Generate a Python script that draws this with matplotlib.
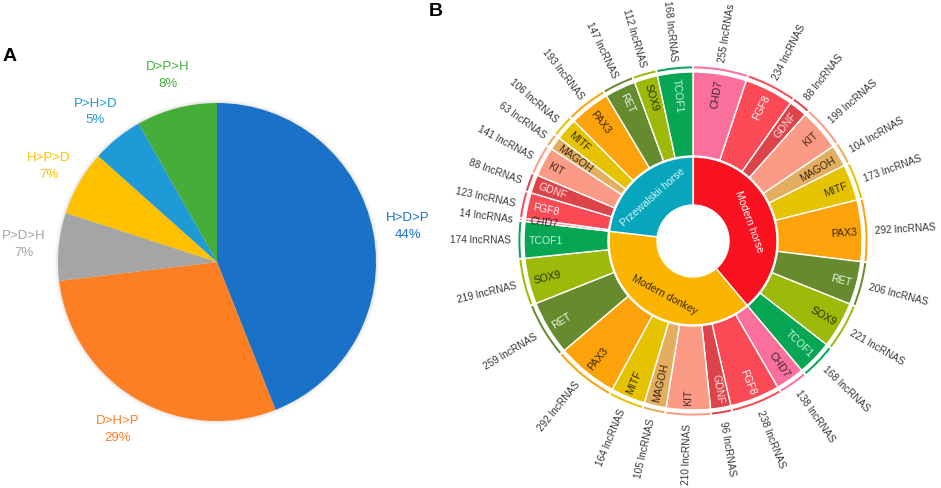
import numpy as np
import matplotlib
matplotlib.use("Agg")
import matplotlib.pyplot as plt

plt.rcParams['font.family'] = ['Liberation Sans', 'DejaVu Sans']

# ---------------- Panel A data ----------------
order_labels = ["H>D>P", "D>H>P", "P>D>H", "H>P>D", "P>H>D", "D>P>H"]
order_share = [44.0, 29.1, 6.9, 6.6, 5.2, 8.2]
order_colors = ["#1A71C8", "#FD7F23", "#A5A5A5", "#FFC000", "#1E9AD6", "#45AE3B"]

# ---------------- Panel B data ----------------
species = ["Modern horse", "Modern donkey", "Przewalskii horse"]
species_colors = ["#F8121F", "#FBB400", "#08A6BD"]
species_text = ["white", "#3a2a00", "#d8f4f8"]
genes = ["CHD7", "FGF8", "GDNF", "KIT", "MAGOH", "MITF", "PAX3", "RET", "SOX9", "TCOF1"]
gene_colors = ["#FB6F9D", "#FA4A55", "#DD4449", "#FB9B85", "#E4AE60",
               "#E6C300", "#FCA20B", "#668A2E", "#9DBA0A", "#06A653"]
gene_text = ["#3a2a2a", "white", "#ffe0e0", "#4a2a20", "#3a2a10",
             "#3a3000", "#3a2a00", "#eef5e0", "#2a3000", "#c8f0dc"]
horse_counts = [255, 234, 88, 199, 104, 173, 292, 206, 221, 168]
donkey_counts = [138, 238, 96, 210, 105, 164, 292, 259, 219, 174]
przewalskii_counts = [14, 123, 88, 141, 63, 106, 193, 147, 112, 168]
lowercase_unit = {("Modern horse", "CHD7"), ("Przewalskii horse", "CHD7")}

W, H = 941, 489
fig = plt.figure(figsize=(9.41, 4.89), dpi=100)
ax = fig.add_axes([0, 0, 1, 1])

# ---------------- Panel A ----------------
cxA, cyA, rA = 217, H - 263, 159
# faint shadow
for k, a in zip(range(1, 5), [0.09, 0.06, 0.04, 0.02]):
    ax.add_patch(plt.Circle((cxA, cyA), rA + k, color="#888888", alpha=a, lw=0, zorder=0))
wedgesA, _ = ax.pie(order_share, colors=order_colors, startangle=90, counterclock=False,
                    radius=rA, center=(cxA, cyA), wedgeprops=dict(linewidth=0))
for w, lab, v, c in zip(wedgesA, order_labels, order_share, order_colors):
    mid = np.deg2rad((w.theta1 + w.theta2) / 2)
    x = cxA + 1.22 * rA * np.cos(mid)
    y = cyA + 1.22 * rA * np.sin(mid)
    ax.text(x, y, f"{lab}\n{round(v)}%", color=c, ha='center', va='center',
            fontsize=9.5, linespacing=1.55)

ax.text(10, H - 57, "A", fontsize=14, fontweight='bold', ha='center', va='center')
ax.text(436, H - 12, "B", fontsize=14, fontweight='bold', ha='center', va='center')

# ---------------- Panel B ----------------
cxB, cyB = 693, H - 242
all_counts = [horse_counts, donkey_counts, przewalskii_counts]
sp_tot = [sum(c) for c in all_counts]
gene_vals = horse_counts + donkey_counts + przewalskii_counts
gene_cols = gene_colors * 3

sp_w, _ = ax.pie(sp_tot, colors=species_colors, startangle=90, counterclock=False,
                 radius=84, center=(cxB, cyB),
                 wedgeprops=dict(width=48, edgecolor='white', linewidth=1.0))
g_w, _ = ax.pie(gene_vals, colors=gene_cols, startangle=90, counterclock=False,
                radius=169, center=(cxB, cyB),
                wedgeprops=dict(width=84, edgecolor='white', linewidth=1.0))
ax.pie(gene_vals, colors=gene_cols, startangle=90, counterclock=False,
       radius=175.5, center=(cxB, cyB),
       wedgeprops=dict(width=3.8, edgecolor='white', linewidth=1.3))


def norm(a):
    return (a + 180) % 360 - 180


# species labels (tangential)
for w, name, tc in zip(sp_w, species, species_text):
    mid = (w.theta1 + w.theta2) / 2
    r = 60
    x = cxB + r * np.cos(np.deg2rad(mid))
    y = cyB + r * np.sin(np.deg2rad(mid))
    rot = norm(mid - 90)
    if rot > 90:
        rot -= 180
    elif rot < -90:
        rot += 180
    ax.text(x, y, name, rotation=rot, rotation_mode='anchor', ha='center', va='center',
            fontsize=7.6, color=tc)

# gene and count labels
idx = 0
for sp, counts in zip(species, all_counts):
    for g, n in zip(genes, counts):
        w = g_w[idx]
        gi = genes.index(g)
        idx += 1
        mid = norm((w.theta1 + w.theta2) / 2)
        rad = np.deg2rad(mid)
        right = -90 <= mid <= 90
        rot = mid if right else mid - 180
        # gene name
        rg = 164
        ax.text(cxB + rg * np.cos(rad), cyB + rg * np.sin(rad), g,
                rotation=rot, rotation_mode='anchor',
                ha='right' if right else 'left', va='center',
                fontsize=7.6, color=gene_text[gi])
        # count label
        unit = "lncRNAs" if (sp, g) in lowercase_unit else "lncRNAS"
        rc = 182
        ax.text(cxB + rc * np.cos(rad), cyB + rc * np.sin(rad), f"{n} {unit}",
                rotation=rot, rotation_mode='anchor',
                ha='left' if right else 'right', va='center',
                fontsize=7.3, color="#383838")

ax.set_xlim(0, W)
ax.set_ylim(0, H)
ax.set_aspect('equal')
ax.axis('off')
fig.savefig("out.png", dpi=100)
